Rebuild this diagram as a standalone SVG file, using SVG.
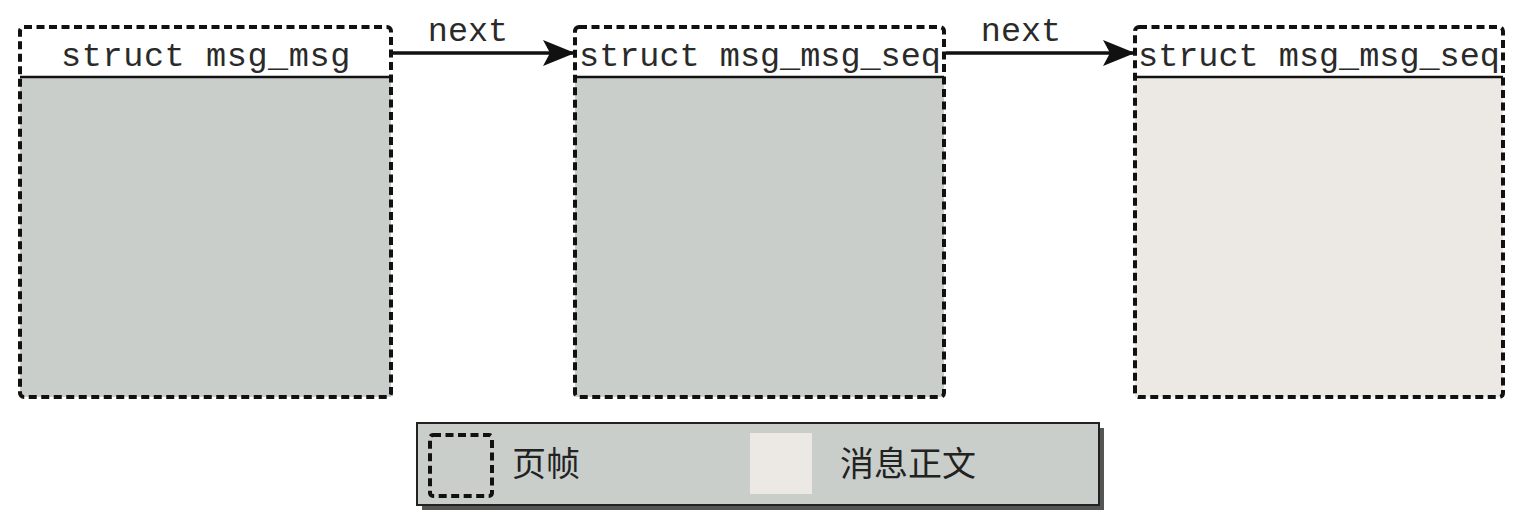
<svg xmlns="http://www.w3.org/2000/svg" width="1518" height="524" viewBox="0 0 1518 524">
<style>
.frame{stroke:#111;stroke-width:4;stroke-dasharray:8 4.5;fill:none}
.hdr{fill:#ffffff}
.gray{fill:#c9cecb}
.light{fill:#ece9e5}
.sep{stroke:#111;stroke-width:2.5}
.mono{font-family:"Liberation Mono","Courier New",monospace;font-size:33.5px;fill:#2a2a2a}
.cjk{font-family:"Noto Sans CJK SC","Noto Sans CJK JP",serif;font-size:34px;fill:#222}
.conn{stroke:#111;stroke-width:3.5;fill:none}
</style>
<defs>
<marker id="arr" markerUnits="userSpaceOnUse" markerWidth="34" markerHeight="26" refX="32" refY="13" orient="auto">
<path d="M0,0 L32,13 L0,26 L7,13 Z" fill="#111"/>
</marker>
</defs>
<rect width="1518" height="524" fill="#ffffff"/>
<g id="node1">
<rect class="hdr" x="20" y="27" width="371" height="50"/>
<rect class="gray" x="20" y="77" width="371" height="320"/>
<line class="sep" x1="20" y1="77" x2="391" y2="77"/>
<rect class="frame" x="20" y="27" width="371" height="370" rx="4"/>
<text class="mono" x="206" y="66" text-anchor="middle" letter-spacing="0.6">struct msg_msg</text>
</g>
<g id="node2">
<rect class="hdr" x="575" y="27" width="369" height="50"/>
<rect class="gray" x="575" y="77" width="369" height="320"/>
<line class="sep" x1="575" y1="77" x2="944" y2="77"/>
<rect class="frame" x="575" y="27" width="369" height="370" rx="4"/>
<text class="mono" x="760" y="66" text-anchor="middle">struct msg_msg_seq</text>
</g>
<g id="node3">
<rect class="hdr" x="1135" y="27" width="368" height="50"/>
<rect class="light" x="1135" y="77" width="368" height="320"/>
<line class="sep" x1="1135" y1="77" x2="1503" y2="77"/>
<rect class="frame" x="1135" y="27" width="368" height="370" rx="4"/>
<text class="mono" x="1319" y="66" text-anchor="middle">struct msg_msg_seq</text>
</g>
<g id="connectors">
<line class="conn" x1="393" y1="53" x2="575" y2="53" marker-end="url(#arr)"/>
<text class="mono" x="468" y="41" text-anchor="middle">next</text>
<line class="conn" x1="946" y1="53" x2="1135" y2="53" marker-end="url(#arr)"/>
<text class="mono" x="1021" y="41" text-anchor="middle">next</text>
</g>
<g id="legend">
<rect x="422" y="428" width="682" height="82" fill="#555"/>
<rect x="417" y="423" width="682" height="82" fill="#c9cecb" stroke="#222" stroke-width="2"/>
<rect class="frame" x="430" y="435" width="62" height="61" rx="3" stroke-width="3.5" stroke-dasharray="8 5"/>
<text class="cjk" x="512" y="476">页帧</text>
<rect class="light" x="750" y="433" width="62" height="61"/>
<text class="cjk" x="840" y="476">消息正文</text>
</g>
</svg>
